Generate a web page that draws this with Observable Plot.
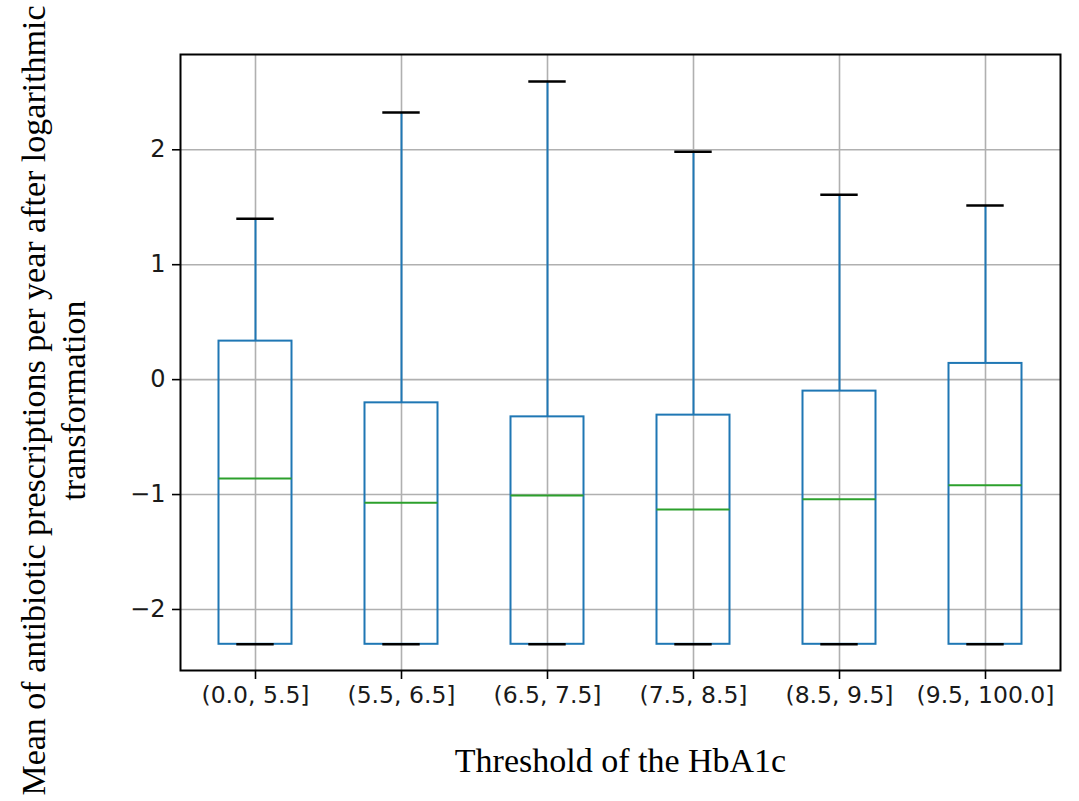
<!DOCTYPE html>
<html>
<head>
<meta charset="utf-8">
<script src="https://cdn.jsdelivr.net/npm/d3@7"></script>
<script src="https://cdn.jsdelivr.net/npm/@observablehq/plot@0.6"></script>
<style>
  html, body { margin: 0; padding: 0; background: #fff; }
  #chart { width: 1079px; height: 801px; }
</style>
</head>
<body>
<div id="chart"></div>
<script>
const categories = ["(0.0, 5.5]", "(5.5, 6.5]", "(6.5, 7.5]", "(7.5, 8.5]", "(8.5, 9.5]", "(9.5, 100.0]"];
const whiskerLow = [-2.303, -2.303, -2.303, -2.303, -2.303, -2.303];
const q1 = [-2.303, -2.303, -2.303, -2.303, -2.303, -2.303];
const median = [-0.860, -1.072, -1.008, -1.130, -1.040, -0.918];
const q3 = [0.335, -0.202, -0.324, -0.309, -0.100, 0.141];
const whiskerHigh = [1.40, 2.325, 2.594, 1.983, 1.608, 1.515];
const yTicks = [-2, -1, 0, 1, 2];
const xTitle = "Threshold of the HbA1c";
const yTitle = "Mean of antibiotic prescriptions per year after logarithmic\ntransformation";

const data = categories.map((c, i) => ({
  cat: c, lo: whiskerLow[i], q1: q1[i], med: median[i], q3: q3[i], hi: whiskerHigh[i]
}));

const blue = "#1f77b4", green = "#2ca02c";
const tickFont = "'DejaVu Sans', sans-serif";
const titleFont = "'Liberation Serif', 'Times New Roman', serif";

const chart = Plot.plot({
  width: 1079,
  height: 801,
  marginLeft: 180,
  marginRight: 19,
  marginTop: 54,
  marginBottom: 131,
  style: { background: "#fff", overflow: "visible" },
  x: { type: "band", domain: categories, paddingInner: 0, paddingOuter: 0, label: null },
  y: { domain: [-2.531, 2.829], label: null },
  marks: [
    Plot.gridX(categories, { stroke: "#b0b0b0", strokeOpacity: 1, strokeWidth: 1.6 }),
    Plot.gridY(yTicks, { stroke: "#b0b0b0", strokeOpacity: 1, strokeWidth: 1.6 }),
    Plot.ruleX(data, { x: "cat", y1: "q3", y2: "hi", stroke: blue, strokeWidth: 2 }),
    Plot.ruleX(data, { x: "cat", y1: "lo", y2: "q1", stroke: blue, strokeWidth: 2 }),
    Plot.barY(data, { x: "cat", y1: "q1", y2: "q3", fill: "none", stroke: blue, strokeWidth: 2, insetLeft: 36.5, insetRight: 36.5 }),
    Plot.tickY(data, { x: "cat", y: "med", stroke: green, strokeWidth: 2, inset: 36.5 }),
    Plot.tickY(data, { x: "cat", y: "hi", stroke: "#000", strokeWidth: 2.5, inset: 54.3 }),
    Plot.tickY(data, { x: "cat", y: "lo", stroke: "#000", strokeWidth: 2.5, inset: 54.3 }),
    Plot.frame({ stroke: "#000", strokeWidth: 2 }),
    Plot.axisY(yTicks, {
      tickSize: 8, tickPadding: 7, fontSize: 24, fontFamily: tickFont, fill: "#1a1a1a",
      strokeWidth: 1.6, tickFormat: d => d < 0 ? "\u2212" + (-d) : String(d), label: null
    }),
    Plot.axisX({
      tickSize: 9, tickPadding: 7, fontSize: 23.5, fontFamily: tickFont, fill: "#1a1a1a",
      strokeWidth: 1.6, label: null
    }),
    Plot.text([xTitle], {
      frameAnchor: "bottom", dy: 101, lineAnchor: "bottom", text: d => d,
      fontSize: 34, fontFamily: titleFont, fill: "#000"
    }),
    Plot.text([yTitle], {
      frameAnchor: "left", rotate: -90, dx: -128, dy: 38, lineAnchor: "middle", textAnchor: "middle",
      lineHeight: 1.18, text: d => d, fontSize: 34, fontFamily: titleFont, fill: "#000"
    })
  ]
});
document.getElementById("chart").appendChild(chart);
</script>
</body>
</html>
